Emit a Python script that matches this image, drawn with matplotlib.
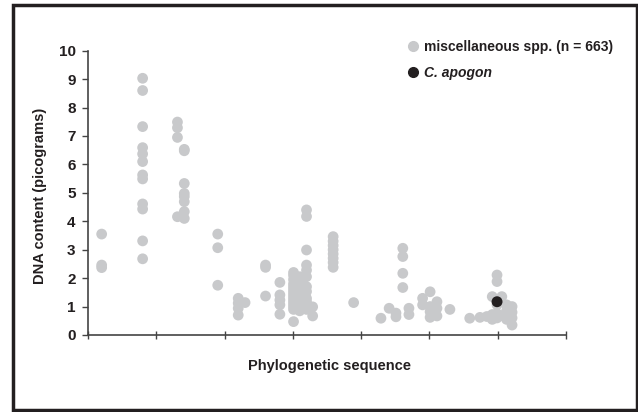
import matplotlib
matplotlib.use("Agg")
import matplotlib.pyplot as plt
from matplotlib.patches import Rectangle
from matplotlib.lines import Line2D

plt.rcParams['font.family'] = ['Liberation Sans', 'DejaVu Sans']

# ---- data (x = position in phylogenetic sequence, y = DNA content in pg) ----
misc_x = ([0.20] * 3 + [0.80] * 12 + [1.31] * 4 + [1.41] * 8 + [1.90] * 3 + [2.20] * 4 + [2.30]
          + [2.60] * 3 + [2.81] * 5 + [3.01] * 14 + [3.10] * 8 + [3.20] * 11 + [3.29] * 2
          + [3.59] * 8 + [3.89] + [4.29] + [4.41] + [4.51] * 2 + [4.61] * 4 + [4.70] * 2
          + [4.90] * 2 + [5.01] * 4 + [5.11] * 3 + [5.30] + [5.59] + [5.74] + [5.84]
          + [5.92] * 3 + [5.99] * 5 + [6.06] * 2 + [6.13] * 4 + [6.21] * 4)
misc_y = ([3.55, 2.46, 2.37]
          + [9.03, 8.60, 7.33, 6.59, 6.37, 6.10, 5.63, 5.49, 4.61, 4.43, 3.31, 2.68]
          + [7.49, 7.29, 6.95, 4.16]
          + [6.53, 6.48, 5.33, 4.98, 4.87, 4.69, 4.34, 4.10]
          + [3.55, 3.07, 1.75]
          + [1.29, 1.12, 0.94, 0.70]
          + [1.14]
          + [2.46, 2.38, 1.37]
          + [1.85, 1.41, 1.23, 1.06, 0.73]
          + [2.20, 2.10, 1.95, 1.80, 1.70, 1.60, 1.50, 1.40, 1.30, 1.20, 1.10, 1.00, 0.90, 0.47]
          + [2.05, 1.85, 1.65, 1.45, 1.30, 1.15, 1.00, 0.85]
          + [4.40, 4.17, 2.99, 2.46, 2.28, 2.05, 1.70, 1.53, 1.29, 1.17, 0.90]
          + [0.99, 0.67]
          + [3.46, 3.30, 3.15, 3.00, 2.85, 2.70, 2.55, 2.38]
          + [1.14]
          + [0.59]
          + [0.94]
          + [0.77, 0.64]
          + [3.05, 2.76, 2.17, 1.67]
          + [0.94, 0.72]
          + [1.29, 1.06]
          + [1.52, 0.82, 0.62, 1.00]
          + [1.17, 0.94, 0.67]
          + [0.90]
          + [0.59]
          + [0.62]
          + [0.65]
          + [1.35, 0.72, 0.55]
          + [2.11, 1.88, 1.06, 0.75, 0.60]
          + [1.35, 0.68]
          + [1.06, 0.85, 0.70, 0.55]
          + [1.00, 0.80, 0.60, 0.35])
apogon_x = [5.99]
apogon_y = [1.17]

y_ticks = list(range(0, 11))
x_ticks = list(range(0, 8))
labels = ["miscellaneous spp. (n = 663)", "C. apogon"]

grey = "#c8c9cb"
dark = "#231f20"

fig = plt.figure(figsize=(6.38, 4.12), dpi=100)
ax = fig.add_axes([88 / 638, 1 - 335 / 412, (566 - 88) / 638, (335 - 50.7) / 412])

ax.scatter(misc_x, misc_y, s=60, color=grey, edgecolors='none', zorder=2, clip_on=False)
ax.scatter(apogon_x, apogon_y, s=62, color=dark, edgecolors='none', zorder=3, clip_on=False)

ax.set_xlim(0, 7)
ax.set_ylim(0, 10)
ax.set_xticks(x_ticks)
ax.set_xticklabels([])
ax.set_yticks(y_ticks)
ax.set_yticklabels([str(v) for v in y_ticks], fontsize=11, fontweight='bold', color=dark)
ax.tick_params(axis='y', direction='out', length=4, width=1, color='#444444', pad=5)
ax.tick_params(axis='x', direction='inout', length=6, width=1, color='#444444')
for s in ['top', 'right']:
    ax.spines[s].set_visible(False)
for s in ['left', 'bottom']:
    ax.spines[s].set_color('#444444')
    ax.spines[s].set_linewidth(1.2)

fig.text(40 / 638, 1 - 196 / 412, "DNA content (picograms)", rotation=90, ha='center', va='center',
         fontsize=10.5, fontweight='bold', color=dark)
fig.text(329 / 638, 1 - 366 / 412, "Phylogenetic sequence", ha='center', va='center',
         fontsize=10.5, fontweight='bold', color=dark)

handles = [Line2D([], [], linestyle='none', marker='o', markersize=7, color=grey),
           Line2D([], [], linestyle='none', marker='o', markersize=7, color=dark)]
leg = ax.legend(handles, labels, loc='upper left', bbox_to_anchor=(407 / 638, 1 - 40 / 412),
                bbox_transform=fig.transFigure, frameon=False, fontsize=10,
                handlelength=0.8, handletextpad=0.45, labelspacing=0.85, borderpad=0, borderaxespad=0)
for t in leg.get_texts():
    t.set_fontweight('bold')
    t.set_color(dark)
leg.get_texts()[1].set_fontstyle('italic')

fig.patches.append(Rectangle((13 / 638, 2 / 412), 624 / 638, 405 / 412, transform=fig.transFigure,
                             fill=False, edgecolor=dark, linewidth=2.5))

fig.savefig("out.png", dpi=100)
